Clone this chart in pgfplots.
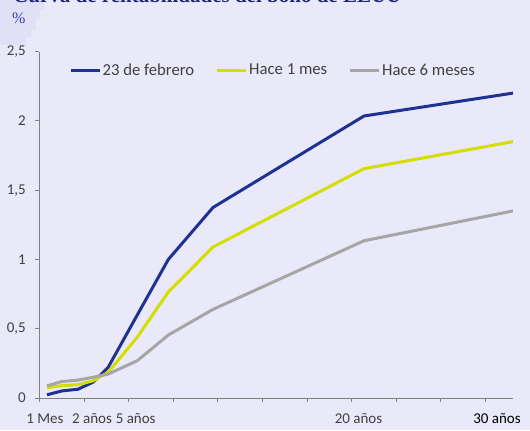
\documentclass[border=0pt]{standalone}
\usepackage{pgfplots}
\pgfplotsset{compat=1.18}
\usepackage{fontspec}
\setmainfont{Carlito}
\newfontfamily\titlefont{Liberation Serif}
\definecolor{bg}{RGB}{233,233,250}
\definecolor{bgdark}{RGB}{224,224,246}
\definecolor{cblue}{RGB}{30,50,145}
\definecolor{cyel}{RGB}{212,222,0}
\definecolor{cgray}{RGB}{166,166,166}
\definecolor{ctitle}{RGB}{28,40,125}
\definecolor{cpct}{RGB}{58,62,175}
\definecolor{ctick}{RGB}{64,64,64}
\definecolor{caxis}{RGB}{128,128,128}
\begin{document}
\begin{tikzpicture}[x=1bp,y=1bp]
\path[use as bounding box] (0,0) rectangle (530,430);
\clip (0,0) rectangle (530,430);
\fill[bg] (0,0) rectangle (530,430);
\fill[bgdark] (0,430) -- (44,430) -- (44,420) -- (40,420) -- (40,413) -- (36,413) -- (36,400) -- (31,400) -- (31,393) -- (26,393) -- (26,385) -- (0,385) -- cycle;
\node[anchor=base west, inner sep=0pt, text=ctitle, font=\titlefont\bfseries\fontsize{21bp}{24bp}\selectfont] at (13,427) {Curva de rentabilidades del bono de EEUU};
\node[anchor=base west, inner sep=0pt, text=cpct, font=\titlefont\fontsize{16bp}{18bp}\selectfont] at (12,406) {\%};
\begin{axis}[
  at={(39.3,23)}, anchor=south west,
  scale only axis, width=473.7bp, height=346.6bp,
  xmin=0, xmax=473.7, ymin=0, ymax=2.5,
  axis lines*=left,
  axis line style={draw=caxis, line width=0.8bp},
  tick align=outside, major tick length=4bp,
  tick style={draw=caxis, line width=0.8bp},
  xtick={0,44.6,89.2,133.8,178.4,223,267.6,312.2,356.8,401.4,446},
  xticklabels={},
  extra x ticks={5.7,52.7,96.4,319.2,457.7},
  extra x tick labels={1 Mes,2 años,5 años,20 años,{\color{black}30 años}},
  extra x tick style={major tick length=0pt},
  xticklabel style={yshift=-12bp},
  yticklabel style={xshift=-6bp},
  ytick={0,0.5,1,1.5,2,2.5},
  /pgf/number format/use comma,
  /pgf/number format/assume math mode=true,
  tick label style={font=\fontsize{15bp}{18bp}\selectfont, text=ctick},
  no markers,
  legend columns=3,
  legend style={at={(axis description cs:0.0625,0.9458)}, anchor=west, draw=none, fill=none, inner sep=0pt,
    font=\fontsize{16.7bp}{20bp}\selectfont, nodes={text=ctick, inner xsep=1.5bp},
    /tikz/every even column/.append style={column sep=20bp}},
  legend image code/.code={\draw[#1] (0bp,0bp) -- (29bp,0bp);},
]
\addplot[cblue, line width=3bp] coordinates {(7.7,0.024)(22.7,0.052)(38.7,0.064)(53.7,0.115)(68.7,0.22)(98,0.60)(129,1.0)(173.7,1.375)(324.7,2.035)(473.7,2.20)};
\addlegendentry{23 de febrero}
\addplot[cyel, line width=3bp] coordinates {(7.7,0.075)(22.7,0.09)(38.7,0.097)(53.7,0.125)(68.7,0.185)(98,0.44)(129,0.765)(173.7,1.09)(324.7,1.655)(473.7,1.85)};
\addlegendentry{Hace 1 mes}
\addplot[cgray, line width=3bp] coordinates {(7.7,0.088)(22.7,0.12)(38.7,0.13)(53.7,0.15)(68.7,0.173)(98,0.27)(129,0.455)(173.7,0.64)(324.7,1.135)(473.7,1.35)};
\addlegendentry{Hace 6 meses}
\end{axis}
\end{tikzpicture}
\end{document}
